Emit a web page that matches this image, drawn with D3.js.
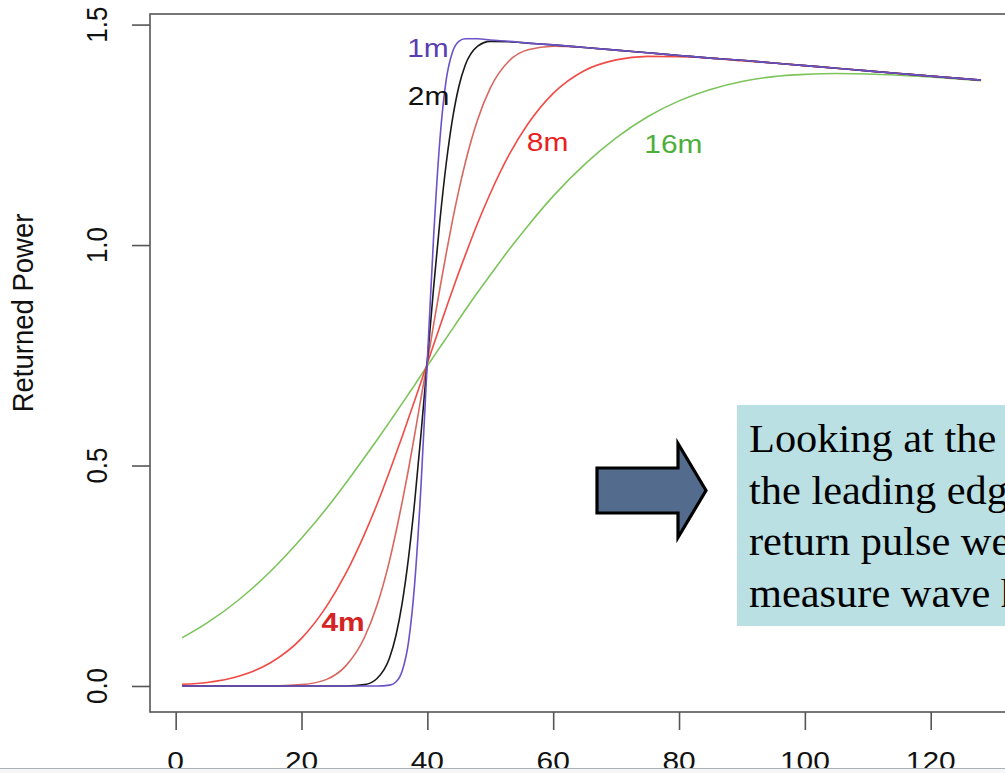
<!DOCTYPE html>
<html>
<head>
<meta charset="utf-8">
<script src="https://cdn.jsdelivr.net/npm/d3@7/dist/d3.min.js"></script>
<style>
  html, body { margin: 0; padding: 0; background: #fff; }
  svg { display: block; }
</style>
</head>
<body>
<svg id="chart"></svg>
<script>
// Sample positions along the waveform (range bins), shared by every series.
const distance = [1, 5, 10, 15, 20, 24, 27, 30, 32, 34, 35, 36, 37, 38, 39, 40, 41, 42, 43, 44,
                  45, 46, 48, 50, 53, 56, 60, 65, 70, 75, 80, 85, 90, 95, 100, 105, 110, 115, 120, 128];

// Returned power for each wave height.
const power1m = [0, 0, 0, 0, 0, 0, 0, 0, 0, 0.002, 0.009, 0.034, 0.099, 0.235, 0.456, 0.738, 1.020, 1.240, 1.375, 1.438,
                 1.462, 1.468, 1.468, 1.465, 1.462, 1.458, 1.454, 1.448, 1.442, 1.436, 1.430, 1.424, 1.419, 1.413, 1.407, 1.401, 1.395, 1.389, 1.383, 1.374];
const power2m = [0, 0, 0, 0, 0, 0, 0, 0.003, 0.017, 0.064, 0.114, 0.188, 0.290, 0.420, 0.573, 0.738, 0.904, 1.056, 1.185, 1.286,
                 1.359, 1.407, 1.451, 1.462, 1.461, 1.458, 1.454, 1.448, 1.442, 1.436, 1.430, 1.424, 1.419, 1.413, 1.407, 1.401, 1.395, 1.389, 1.383, 1.374];
const power4m = [0, 0, 0, 0, 0.003, 0.015, 0.045, 0.110, 0.183, 0.285, 0.348, 0.417, 0.491, 0.571, 0.654, 0.735, 0.820, 0.902, 0.981, 1.056,
                 1.124, 1.185, 1.285, 1.356, 1.418, 1.443, 1.451, 1.448, 1.442, 1.436, 1.430, 1.424, 1.419, 1.413, 1.407, 1.401, 1.395, 1.389, 1.383, 1.374];
const power8m = [0.004, 0.008, 0.022, 0.052, 0.108, 0.181, 0.254, 0.344, 0.412, 0.487, 0.526, 0.566, 0.607, 0.648, 0.690, 0.732, 0.774, 0.816, 0.857, 0.898,
                 0.938, 0.976, 1.050, 1.117, 1.205, 1.275, 1.344, 1.396, 1.420, 1.428, 1.427, 1.424, 1.418, 1.413, 1.407, 1.401, 1.395, 1.389, 1.383, 1.374];
const power16m = [0.109, 0.143, 0.195, 0.259, 0.335, 0.403, 0.459, 0.518, 0.558, 0.599, 0.620, 0.641, 0.662, 0.683, 0.705, 0.726, 0.747, 0.768, 0.789, 0.810,
                  0.831, 0.852, 0.893, 0.932, 0.990, 1.044, 1.111, 1.183, 1.243, 1.291, 1.327, 1.353, 1.371, 1.382, 1.387, 1.389, 1.388, 1.385, 1.381, 1.373];

// Drawing order: widest pulse first so the 1m line sits on top.
const seriesNames = ["16m", "8m", "4m", "2m", "1m"];
const seriesValues = [power16m, power8m, power4m, power2m, power1m];
const lineColors = ["#7cc45c", "#f24a45", "#d8675f", "#1a1a1a", "#6c52c8"];

// Curve labels placed on the chart (data coordinates).
const labelNames = ["1m", "2m", "4m", "8m", "16m"];
const labelX = [40.1, 40.2, 26.6, 59.1, 79.1];
const labelY = [1.447, 1.338, 0.145, 1.234, 1.231];
const labelColors = ["#5a3db2", "#111111", "#d42424", "#e8221e", "#4dae3b"];

const xTicks = [0, 20, 40, 60, 80, 100, 120];
const yTicks = [0, 0.5, 1.0, 1.5];
const yTickLabels = ["0.0", "0.5", "1.0", "1.5"];
const yTitle = "Returned Power";

const noteLines = ["Looking at the", "the leading edge", "return pulse we", "measure wave h"];

// Page and plot box sizes.
const width = 1005;
const height = 773;
const box = { left: 150, top: 14, right: 1013, bottom: 712 };
const sans = "'Liberation Sans', Arial, Helvetica, sans-serif";
const serif = "'Liberation Serif', 'Times New Roman', Times, serif";
const stretch = 1.15; // the original image was widened a little

const svg = d3.select('#chart')
    .attr('width', width)
    .attr('height', height)
    .attr('viewBox', `0 0 ${width} ${height}`);

svg.append('rect').attr('width', width).attr('height', height).attr('fill', '#fff');

// R style scales: 4% padding around the data range.
const x = d3.scaleLinear().domain([-4.08, 133.08]).range([box.left, box.right]);
const y = d3.scaleLinear().domain([-0.059, 1.524]).range([box.bottom, box.top]);

svg.append('clipPath').attr('id', 'plot-clip')
    .append('rect')
    .attr('x', box.left).attr('y', box.top)
    .attr('width', box.right - box.left).attr('height', box.bottom - box.top);

// The curves.
const line = d3.line()
    .x((d, i) => x(distance[i]))
    .y(d => y(d))
    .curve(d3.curveMonotoneX);

svg.append('g')
    .attr('clip-path', 'url(#plot-clip)')
    .selectAll('path')
    .data(seriesValues)
    .join('path')
    .attr('d', line)
    .attr('fill', 'none')
    .attr('stroke', (d, i) => lineColors[i])
    .attr('stroke-width', 1.6)
    .attr('stroke-linejoin', 'round');

// Plot box.
svg.append('rect')
    .attr('x', box.left).attr('y', box.top)
    .attr('width', box.right - box.left).attr('height', box.bottom - box.top)
    .attr('fill', 'none')
    .attr('stroke', '#555')
    .attr('stroke-width', 1.6);

// Y axis: ticks to the left, labels rotated like R does.
const yAxis = svg.append('g')
    .attr('transform', `translate(${box.left},0)`)
    .call(d3.axisLeft(y).tickValues(yTicks).tickSize(18).tickFormat(''));
yAxis.select('.domain').remove();
yAxis.selectAll('line').attr('stroke', '#555').attr('stroke-width', 1.6);

svg.append('g')
    .selectAll('text')
    .data(yTicks)
    .join('text')
    .attr('transform', d => `translate(107,${y(d)}) scale(${stretch},1) rotate(-90)`)
    .attr('text-anchor', 'middle')
    .style('font-family', sans)
    .style('font-size', '26px')
    .attr('fill', '#111')
    .text((d, i) => yTickLabels[i]);

svg.append('text')
    .attr('transform', `translate(33,313) scale(1.08,1) rotate(-90)`)
    .attr('text-anchor', 'middle')
    .style('font-family', sans)
    .style('font-size', '27.5px')
    .attr('fill', '#111')
    .text(yTitle);

// X axis: ticks hang below the box.
const xAxis = svg.append('g')
    .attr('transform', `translate(0,${box.bottom})`)
    .call(d3.axisBottom(x).tickValues(xTicks).tickSize(18).tickFormat(''));
xAxis.select('.domain').remove();
xAxis.selectAll('line').attr('stroke', '#555').attr('stroke-width', 1.6);

// Tick labels are partly hidden by the strip along the bottom, as in the original.
svg.append('g')
    .selectAll('text')
    .data(xTicks)
    .join('text')
    .attr('transform', d => `translate(${x(d)},770) scale(${stretch},1)`)
    .attr('text-anchor', 'middle')
    .style('font-family', sans)
    .style('font-size', '26px')
    .attr('fill', '#111')
    .text(d => d);

// Curve labels.
svg.append('g')
    .selectAll('text')
    .data(labelNames)
    .join('text')
    .attr('transform', (d, i) => `translate(${x(labelX[i])},${y(labelY[i])}) scale(${stretch},1)`)
    .attr('dy', '0.36em')
    .attr('text-anchor', 'middle')
    .style('font-family', sans)
    .style('font-size', '26px')
    .style('font-weight', d => d === '4m' ? 'bold' : 'normal')
    .attr('fill', (d, i) => labelColors[i])
    .text(d => d);

// Block arrow pointing at the note.
const arrow = { left: 597, right: 706, neck: 678, cy: 490.5, body: 22.5, head: 47 };
const arrowPts = [
    [arrow.left, arrow.cy - arrow.body], [arrow.neck, arrow.cy - arrow.body], [arrow.neck, arrow.cy - arrow.head],
    [arrow.right, arrow.cy], [arrow.neck, arrow.cy + arrow.head], [arrow.neck, arrow.cy + arrow.body],
    [arrow.left, arrow.cy + arrow.body]
];
svg.append('path')
    .attr('d', d3.line()(arrowPts) + 'Z')
    .attr('fill', '#536c8d')
    .attr('stroke', '#000')
    .attr('stroke-width', 3.2)
    .attr('stroke-linejoin', 'miter');

// The teal note box, cut off by the right edge.
svg.append('rect')
    .attr('x', 737).attr('y', 405)
    .attr('width', width - 737 + 10).attr('height', 221)
    .attr('fill', '#bae0e3');

svg.append('g')
    .selectAll('text')
    .data(noteLines)
    .join('text')
    .attr('transform', (d, i) => `translate(749,${452 + i * 51.7}) scale(1.06,1)`)
    .style('font-family', serif)
    .style('font-size', '40px')
    .attr('fill', '#000')
    .text(d => d);

// Edge of the next slide element along the bottom.
svg.append('rect')
    .attr('x', 0).attr('y', 768)
    .attr('width', width).attr('height', height - 768)
    .attr('fill', '#f6f6f6');
svg.append('line')
    .attr('x1', 0).attr('x2', width)
    .attr('y1', 768.5).attr('y2', 768.5)
    .attr('stroke', '#a9b3b5')
    .attr('stroke-width', 1);
</script>
</body>
</html>
